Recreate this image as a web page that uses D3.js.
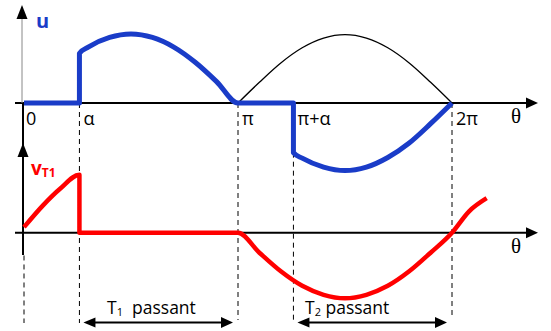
<!DOCTYPE html>
<meta charset="utf-8">
<style>
  body { margin: 0; background: #fff; }
  text { font-family: "Open Sans", sans-serif; }
</style>
<body>
<script src="https://d3js.org/d3.v7.min.js"></script>
<div id="chart"></div>
<script>

// firing angle, in units of pi
var alpha = 0.259;

// angle ticks (units of pi) and their labels
var tickAngles = [0, alpha, 1, 1 + alpha, 2];
var tickLabels = ["0", "\u03b1", "\u03c0", "\u03c0+\u03b1", "2\u03c0"];

// load voltage u (blue), angle in units of pi
var uPoints = [
  [0, 0], [0.259, 0], [0.259, 0.72], [0.3, 0.81], [0.4, 0.95], [0.5, 1.0],
  [0.6, 0.95], [0.7, 0.81], [0.8, 0.59], [0.9, 0.31], [1.0, 0],
  [1.259, 0], [1.259, -0.72], [1.3, -0.8], [1.4, -0.93], [1.5, -0.98],
  [1.6, -0.93], [1.7, -0.79], [1.8, -0.58], [1.9, -0.3], [2.0, 0]
];

// thin black source half wave between pi and 2pi
var sourcePoints = [
  [1.0, 0], [1.1, 0.3], [1.2, 0.58], [1.3, 0.8], [1.4, 0.94], [1.5, 0.99],
  [1.6, 0.94], [1.7, 0.8], [1.8, 0.58], [1.9, 0.3], [2.0, 0]
];

// thyristor voltage vT1 (red)
var vtPoints = [
  [0, 0.08], [0.09, 0.4], [0.17, 0.64], [0.259, 0.84], [0.259, 0], [1.0, 0],
  [1.1, -0.29], [1.2, -0.56], [1.3, -0.77], [1.4, -0.9], [1.5, -0.95],
  [1.6, -0.9], [1.7, -0.77], [1.8, -0.56], [1.9, -0.29], [2.0, 0],
  [2.08, 0.31], [2.162, 0.5]
];

// conduction intervals
var intervals = [
  {from: alpha, to: 1, label: "T", sub: "1", rest: "passant"},
  {from: 1 + alpha, to: 2, label: "T", sub: "2", rest: "passant"}
];

var width = 551, height = 331;

var x = d3.scaleLinear().domain([0, 2]).range([24, 452]);
var yTop = d3.scaleLinear().domain([-1, 1]).range([103 + 69, 103 - 69]);
var yBot = d3.scaleLinear().domain([-1, 1]).range([232.7 + 69, 232.7 - 69]);

var svg = d3.select("#chart").append("svg")
    .attr("width", width)
    .attr("height", height);

// arrow head helpers
function arrowRight(tx, ty) {
  svg.append("path")
    .attr("d", "M" + tx + "," + ty + "L" + (tx - 12) + "," + (ty - 5.5) + "L" + (tx - 12) + "," + (ty + 5.5) + "Z")
    .attr("fill", "#000");
}
function arrowLeft(tx, ty) {
  svg.append("path")
    .attr("d", "M" + tx + "," + ty + "L" + (tx + 12) + "," + (ty - 5) + "L" + (tx + 12) + "," + (ty + 5) + "Z")
    .attr("fill", "#000");
}
function arrowUp(tx, ty) {
  svg.append("path")
    .attr("d", "M" + tx + "," + ty + "L" + (tx - 5.5) + "," + (ty + 14) + "L" + (tx + 5.5) + "," + (ty + 14) + "Z")
    .attr("fill", "#000");
}

// dashed guides
var guideTop = [yBot(-0.33), yTop(0), yTop(0), yTop(-0.72), yTop(0)];
var guideBottom = [323, 323, 320, 320, 316];
svg.selectAll(".guide")
  .data(tickAngles)
  .enter().append("line")
    .attr("class", "guide")
    .attr("x1", function(d) { return x(d); })
    .attr("x2", function(d) { return x(d); })
    .attr("y1", function(d, i) { return guideTop[i]; })
    .attr("y2", function(d, i) { return guideBottom[i]; })
    .attr("stroke", "#000")
    .attr("stroke-width", 1)
    .attr("stroke-dasharray", "5,4");

// top axes
svg.append("line")
  .attr("x1", 15).attr("x2", 530)
  .attr("y1", yTop(0)).attr("y2", yTop(0))
  .attr("stroke", "#000").attr("stroke-width", 2);
arrowRight(538, yTop(0));
svg.append("line")
  .attr("x1", 22).attr("x2", 22)
  .attr("y1", 10).attr("y2", yTop(0))
  .attr("stroke", "#888").attr("stroke-width", 1);
arrowUp(22, 5);

// bottom axes
svg.append("line")
  .attr("x1", 15).attr("x2", 530)
  .attr("y1", yBot(0)).attr("y2", yBot(0))
  .attr("stroke", "#000").attr("stroke-width", 2);
arrowRight(538, yBot(0));
svg.append("line")
  .attr("x1", 23).attr("x2", 23)
  .attr("y1", yTop(0)).attr("y2", 255)
  .attr("stroke", "#000").attr("stroke-width", 2);
arrowUp(23, 143);

// curves
var lineTop = d3.line()
  .x(function(d) { return x(d[0]); })
  .y(function(d) { return yTop(d[1]); })
  .curve(d3.curveMonotoneX);
var lineBot = d3.line()
  .x(function(d) { return x(d[0]); })
  .y(function(d) { return yBot(d[1]); })
  .curve(d3.curveMonotoneX);

svg.append("path")
  .attr("d", lineTop(sourcePoints))
  .attr("fill", "none")
  .attr("stroke", "#000")
  .attr("stroke-width", 1.3);

svg.append("path")
  .attr("d", lineTop(uPoints))
  .attr("fill", "none")
  .attr("stroke", "#1a3cc8")
  .attr("stroke-width", 5)
  .attr("stroke-linejoin", "round");

svg.append("path")
  .attr("d", lineBot(vtPoints))
  .attr("fill", "none")
  .attr("stroke", "#ff0000")
  .attr("stroke-width", 4.5)
  .attr("stroke-linejoin", "round");

// angle labels
svg.selectAll(".tick-label")
  .data(tickAngles)
  .enter().append("text")
    .attr("class", "tick-label")
    .attr("x", function(d, i) { return x(d) + (i == 0 ? 2 : 4); })
    .attr("y", 125)
    .attr("font-size", 18)
    .attr("fill", "#000")
    .text(function(d, i) { return tickLabels[i]; });

// theta labels
[yTop(0), yBot(0)].forEach(function(yy) {
  svg.append("text")
    .attr("x", 511)
    .attr("y", yy + 20)
    .style("font-family", "'Liberation Serif', serif")
    .attr("font-size", 21)
    .text("\u03b8");
});

// axis names
svg.append("text")
  .attr("x", 36).attr("y", 28)
  .attr("font-size", 20).attr("font-weight", "bold")
  .attr("fill", "#1a3cc8")
  .text("u");

var vt = svg.append("text")
  .attr("x", 31).attr("y", 175)
  .attr("font-weight", "bold")
  .attr("fill", "#ff0000");
vt.append("tspan").attr("font-size", 19).text("v");
vt.append("tspan").attr("font-size", 12).attr("dy", 2).text("T1");

// conduction arrows
intervals.forEach(function(d) {
  var x1 = x(d.from) + 4, x2 = x(d.to) - 5, yy = 322.5;
  svg.append("line")
    .attr("x1", x1 + 6).attr("x2", x2 - 6)
    .attr("y1", yy).attr("y2", yy)
    .attr("stroke", "#000").attr("stroke-width", 2);
  arrowLeft(x1, yy);
  arrowRight(x2, yy);
  var t = svg.append("text")
    .attr("x", d.sub == "1" ? 107 : 305)
    .attr("y", 314)
    .attr("font-size", 17.5);
  t.append("tspan").text(d.label);
  t.append("tspan").attr("font-size", 11).attr("dy", 2).text(d.sub);
  t.append("tspan").attr("dy", -2).text(d.sub == "1" ? "\u00a0 " + d.rest : " " + d.rest);
});

</script>
</body>
